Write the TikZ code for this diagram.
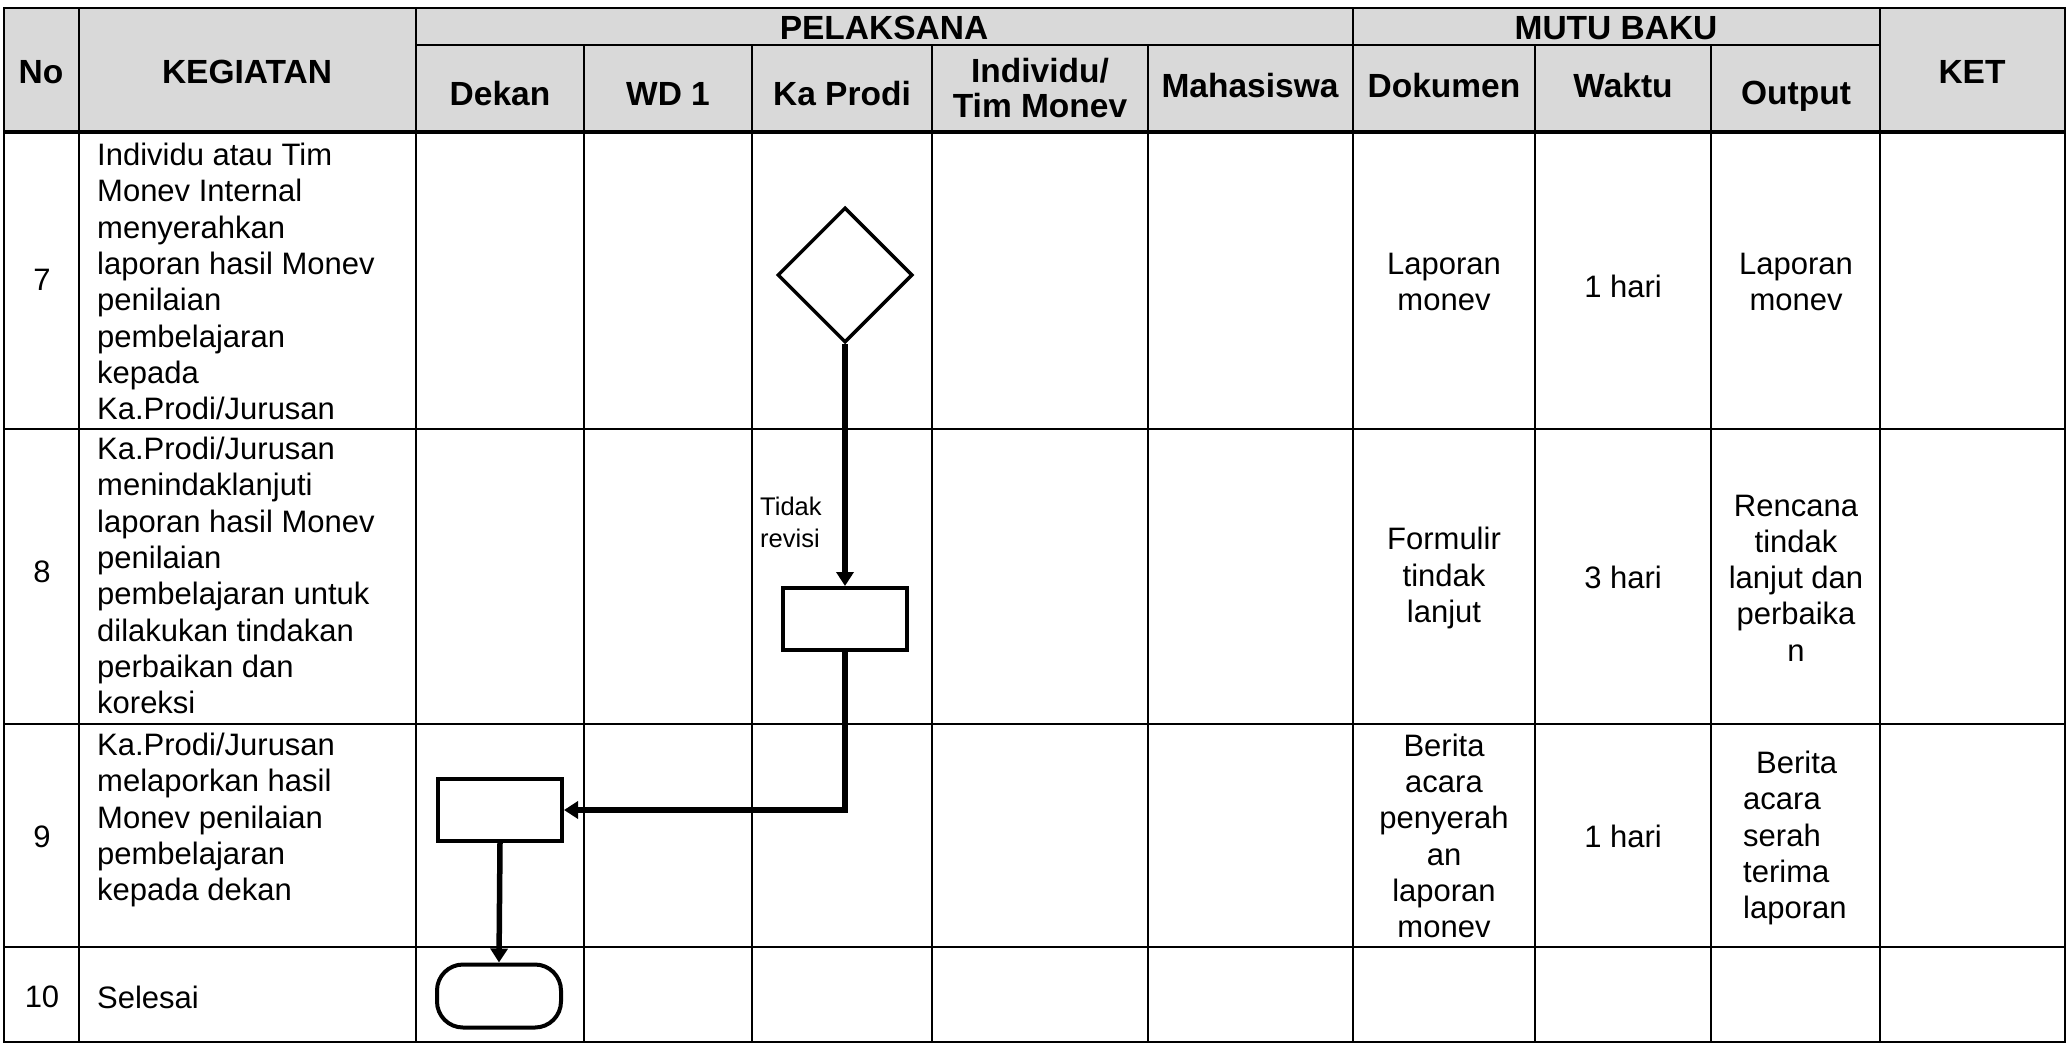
\documentclass[tikz,border=0pt]{standalone}
\usepackage{fontspec}
\setmainfont{Liberation Sans}
\usepackage{tikz}
\usetikzlibrary{
    arrows.meta,
    shapes.geometric
}
\definecolor{headgray}{HTML}{D9D9D9}

\begin{document}
\begin{tikzpicture}[x=1pt,y=-1pt,
    tbl/.style={line width=2.3pt},
    hd/.style={font=\fontsize{33.5}{35}\selectfont\bfseries, inner sep=0pt},
    txt/.style={font=\fontsize{31}{36.3}\selectfont, inner sep=0pt},
    proc/.style={draw, line width=4pt, minimum width=124pt, minimum height=62pt, inner sep=0pt},
    flow/.style={line width=5.5pt, -{Triangle[length=14pt,width=17pt]}}
]
\useasboundingbox (0,0) rectangle (2068,1044);

% Header background
\fill[headgray] (4,8) rectangle (2065,132);

% Table lines
\draw[tbl] (4,8) rectangle (2065,1042);
\draw[tbl] (416,45) -- (1880,45);
\draw[line width=3.2pt] (4,132) -- (2065,132);
\draw[tbl] (4,429) -- (2065,429) (4,724) -- (2065,724) (4,947) -- (2065,947);
\draw[tbl] (79,8) -- (79,1042) (416,8) -- (416,1042) (1353,8) -- (1353,1042) (1880,8) -- (1880,1042);
\draw[tbl] (584,45) -- (584,1042) (752,45) -- (752,1042) (932,45) -- (932,1042)
    (1148,45) -- (1148,1042) (1535,45) -- (1535,1042) (1711,45) -- (1711,1042);

% Header
\node[hd, anchor=base] (hNo) at (41,83) {No};
\node[hd, anchor=base] (hKegiatan) at (247,83) {KEGIATAN};
\node[hd, anchor=base] (hPelaksana) at (884,39) {PELAKSANA};
\node[hd, anchor=base] (hMutu) at (1616,39) {MUTU BAKU};
\node[hd, anchor=base] (hKet) at (1972,83) {KET};
\node[hd, anchor=base] (hDekan) at (500,105) {Dekan};
\node[hd, anchor=base] (hWd) at (668,105) {WD 1};
\node[hd, anchor=base] (hKaprodi) at (842,105) {Ka Prodi};
\node[hd, align=center] (hIndividu) at (1040,88) {Individu/\\Tim Monev};
\node[hd, anchor=base] (hMhs) at (1250,97) {Mahasiswa};
\node[hd, anchor=base] (hDokumen) at (1444,97) {Dokumen};
\node[hd, anchor=base] (hWaktu) at (1623,97) {Waktu};
\node[hd, anchor=base] (hOutput) at (1796,104) {Output};

% Nomor
\node[txt] (no7) at (42,280) {7};
\node[txt] (no8) at (42,572) {8};
\node[txt] (no9) at (42,837) {9};
\node[txt] (no10) at (42,997) {10};

% Kegiatan
\node[txt, anchor=north west, align=left] (keg7) at (97,143)
    {Individu atau Tim\\Monev Internal\\menyerahkan\\laporan hasil Monev\\penilaian\\pembelajaran\\kepada\\Ka.Prodi/Jurusan};
\node[txt, anchor=north west, align=left] (keg8) at (97,437)
    {Ka.Prodi/Jurusan\\menindaklanjuti\\laporan hasil Monev\\penilaian\\pembelajaran untuk\\dilakukan tindakan\\perbaikan dan\\koreksi};
\node[txt, anchor=north west, align=left] (keg9) at (97,733)
    {Ka.Prodi/Jurusan\\melaporkan hasil\\Monev penilaian\\pembelajaran\\kepada dekan};
\node[txt, anchor=base west] (keg10) at (97,1008) {Selesai};

% Mutu baku
\node[txt, align=center] (dok7) at (1444,282) {Laporan\\monev};
\node[txt, align=center] (dok8) at (1444,578) {Formulir\\tindak\\lanjut};
\node[txt, align=center] (dok9) at (1444,836) {Berita\\acara\\penyerah\\an\\laporan\\monev};
\node[txt] (wkt7) at (1623,286) {1 hari};
\node[txt] (wkt8) at (1623,577) {3 hari};
\node[txt] (wkt9) at (1623,836) {1 hari};
\node[txt, align=center] (out7) at (1796,282) {Laporan\\monev};
\node[txt, align=center] (out8) at (1796,578) {Rencana\\tindak\\lanjut dan\\perbaika\\n};
\node[txt, anchor=north west, align=left] (out9) at (1743,751)
    {\hspace*{13pt}Berita\\acara\\serah\\terima\\laporan};

% Flow shapes
\node[draw, diamond, aspect=1, line width=3.5pt, minimum width=135pt, minimum height=135pt, inner sep=0pt] (cek) at (845,275) {};
\node[proc] (tindak) at (845,619) {};
\node[proc] (lapor) at (500,810) {};
\node[proc, rounded corners=26pt, minimum height=63pt] (selesai) at (499,996) {};

% Connectors
\draw[flow] (cek.south) -- (tindak.north);
\draw[flow] (tindak.south) |- (lapor.east);
\draw[flow] (lapor.south) -- (selesai.north);
\node[anchor=north west, align=left, inner sep=0pt, font=\fontsize{25.5}{32}\selectfont] (lblTidak) at (760,497) {Tidak\\revisi};

\end{tikzpicture}
\end{document}
